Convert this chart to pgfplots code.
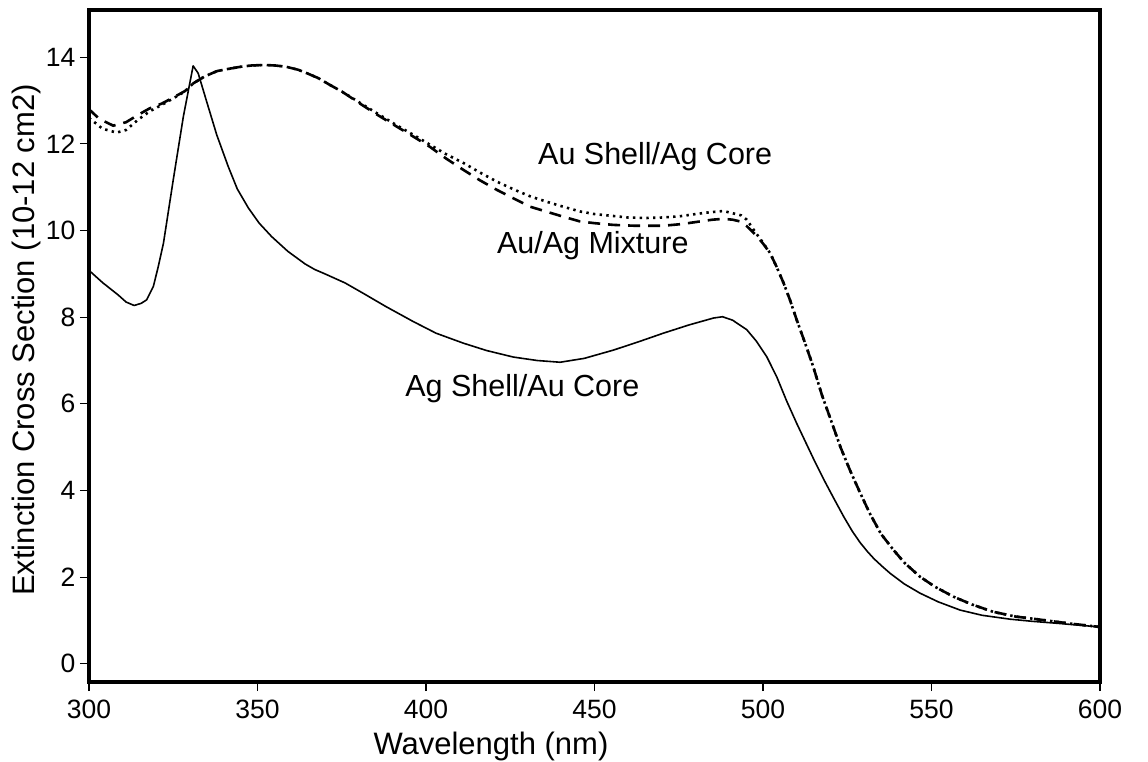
\documentclass[border=0pt]{standalone}
\usepackage{pgfplots}
\pgfplotsset{compat=1.18}
\usepackage{fontspec}
\setmainfont{Liberation Sans}

% Extinction spectra (cross section in 10^-12 cm^2 vs wavelength in nm)
\pgfplotstableread{
x y
300 9.08
304 8.80
308.7 8.51
311 8.35
313.4 8.27
315.5 8.32
317.1 8.40
319.1 8.71
320.5 9.15
322.1 9.71
325.0 11.17
328.0 12.63
330.9 13.80
332.4 13.63
334.9 12.98
337.9 12.21
341.3 11.48
344 10.96
347.3 10.52
350.5 10.17
354.2 9.86
359 9.52
364.1 9.23
367 9.10
370 9.00
376 8.79
381.4 8.55
388 8.25
396.2 7.90
403 7.63
411.1 7.40
418 7.23
425.9 7.08
433 7.00
439.8 6.96
447 7.05
455.6 7.24
463 7.43
470.4 7.63
478 7.82
485.3 7.98
488 8.01
491 7.93
495.2 7.71
498 7.45
501.1 7.09
504.1 6.62
507 6.07
510 5.55
512.5 5.14
515 4.73
518 4.26
521 3.82
524 3.39
526.5 3.06
528.8 2.80
531 2.59
533 2.42
535.5 2.24
537.7 2.09
542 1.84
546.6 1.63
552 1.43
558.5 1.24
565 1.12
573.3 1.03
580 0.98
588.1 0.93
594 0.89
600 0.85
}\agshell

\pgfplotstableread{
x y
300 12.60
304 12.35
308.2 12.26
311 12.32
314.6 12.56
318 12.75
321.6 12.90
325 13.05
328.5 13.21
331 13.40
334.4 13.56
338 13.68
341.3 13.73
345 13.78
348.3 13.81
352 13.82
355.2 13.81
358.5 13.78
362.1 13.71
365 13.62
368 13.52
371.5 13.36
375 13.21
381.4 12.90
386 12.68
391.3 12.43
396 12.22
401.2 11.98
406 11.76
411.1 11.56
416 11.34
421 11.13
426 10.95
430.9 10.79
436 10.66
440.7 10.55
445.7 10.44
450 10.38
455 10.34
460 10.30
465.5 10.29
470 10.30
475.4 10.33
480 10.38
484 10.42
488.2 10.45
491 10.40
493.5 10.35
495.2 10.25
498.1 9.92
500 9.72
502.1 9.48
504 9.17
506.1 8.79
508 8.40
510 7.94
512.5 7.40
514.9 6.86
517.5 6.20
520.5 5.55
523 5.00
525.8 4.47
528.8 3.95
531.7 3.47
535 3.00
538.7 2.63
542 2.33
546.6 2.01
551 1.78
556.5 1.55
562 1.37
568.3 1.20
575 1.09
583.2 1.01
591 0.93
600 0.85
}\aushell

\pgfplotstableread{
x y
300 12.80
303 12.58
307.2 12.42
311 12.50
314.6 12.67
318 12.82
321.6 12.93
325 13.07
328.5 13.22
331 13.40
334.4 13.56
338 13.68
341.3 13.73
345 13.78
348.3 13.81
352 13.82
355.2 13.81
358.5 13.78
362.1 13.71
365 13.62
368 13.52
371.5 13.36
375 13.21
381.4 12.88
386 12.65
391.3 12.40
396 12.18
401.2 11.93
406 11.66
411.1 11.40
416 11.16
421 10.94
426 10.74
430.9 10.55
436 10.43
440.7 10.32
445.7 10.21
450 10.17
455.6 10.13
462 10.11
470.4 10.11
476 10.15
481.3 10.21
485 10.25
488.2 10.27
491 10.25
493.2 10.21
495.2 10.10
498.1 9.88
500 9.70
502.1 9.48
504 9.17
506.1 8.79
508 8.40
510 7.94
512.5 7.40
514.9 6.86
517.5 6.20
520.5 5.55
523 5.00
525.8 4.47
528.8 3.95
531.7 3.47
535 3.00
538.7 2.63
542 2.33
546.6 2.01
551 1.78
556.5 1.55
562 1.37
568.3 1.20
575 1.09
583.2 1.01
591 0.93
600 0.85
}\mixture

\begin{document}
\begin{tikzpicture}
\useasboundingbox (0,0) rectangle (1148pt,761pt);
\begin{axis}[
  at={(89pt,79pt)}, anchor=south west,
  width=1011pt, height=672pt, scale only axis,
  xmin=300, xmax=600, ymin=-0.42, ymax=15.09,
  xtick={300,350,...,600}, ytick={0,2,...,14},
  tick pos=left, tick align=outside,
  major tick length=9pt,
  every tick/.style={black, line width=1.2pt},
  axis line style={line width=3.5pt},
  /pgf/number format/assume math mode=true,
  ticklabel style={font=\fontsize{26.5}{30}\selectfont},
  xticklabel style={yshift=-5pt},
  yticklabel style={xshift=-1pt},
  xlabel={Wavelength (nm)},
  ylabel={Extinction Cross Section (10-12 cm2)},
  label style={font=\fontsize{31}{36}\selectfont},
  xlabel style={at={(axis description cs:0.3976,-0.1086)}, anchor=base},
  ylabel style={at={(axis description cs:-0.0544,0.509)}, anchor=base, rotate=0},
  clip=true,
]
\addplot[black, line width=1.6pt, line join=round] table[x=x,y=y] {\agshell};
\addplot[black, line width=2.6pt, dash pattern=on 12pt off 8pt] table[x=x,y=y] {\mixture};
\addplot[black, line width=2.6pt, dash pattern=on 2.4pt off 4.3pt] table[x=x,y=y] {\aushell};
\node[anchor=base, font=\fontsize{30.5}{36}\selectfont] at (axis cs:468,11.52) {Au Shell/Ag Core};
\node[anchor=base, font=\fontsize{30.5}{36}\selectfont] at (axis cs:449.5,9.48) {Au/Ag Mixture};
\node[anchor=base, font=\fontsize{30.5}{36}\selectfont] at (axis cs:428.6,6.18) {Ag Shell/Au Core};
\end{axis}
\end{tikzpicture}
\end{document}
